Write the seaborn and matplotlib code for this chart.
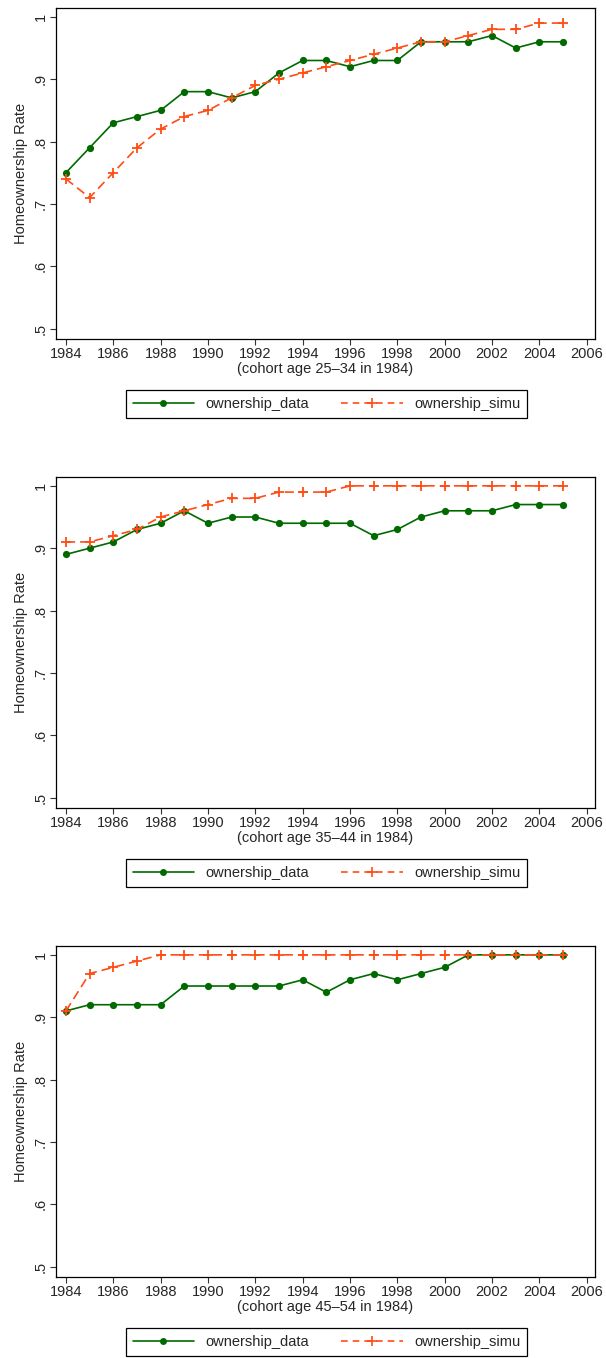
import numpy as np
import pandas as pd
import matplotlib
matplotlib.use("Agg")
import matplotlib.pyplot as plt
import seaborn as sns
from matplotlib.lines import Line2D

sns.set_style("ticks")
plt.rcParams["font.family"] = ["Liberation Sans", "DejaVu Sans"]

years = list(range(1984, 2006))

cohort_labels = [
    "(cohort age 25\u201334 in 1984)",
    "(cohort age 35\u201344 in 1984)",
    "(cohort age 45\u201354 in 1984)",
]

data_25_34 = [0.75, 0.79, 0.83, 0.84, 0.85, 0.88, 0.88, 0.87, 0.88, 0.91, 0.93,
              0.93, 0.92, 0.93, 0.93, 0.96, 0.96, 0.96, 0.97, 0.95, 0.96, 0.96]
simu_25_34 = [0.74, 0.71, 0.75, 0.79, 0.82, 0.84, 0.85, 0.87, 0.89, 0.90, 0.91,
              0.92, 0.93, 0.94, 0.95, 0.96, 0.96, 0.97, 0.98, 0.98, 0.99, 0.99]

data_35_44 = [0.89, 0.90, 0.91, 0.93, 0.94, 0.96, 0.94, 0.95, 0.95, 0.94, 0.94,
              0.94, 0.94, 0.92, 0.93, 0.95, 0.96, 0.96, 0.96, 0.97, 0.97, 0.97]
simu_35_44 = [0.91, 0.91, 0.92, 0.93, 0.95, 0.96, 0.97, 0.98, 0.98, 0.99, 0.99,
              0.99, 1.00, 1.00, 1.00, 1.00, 1.00, 1.00, 1.00, 1.00, 1.00, 1.00]

data_45_54 = [0.91, 0.92, 0.92, 0.92, 0.92, 0.95, 0.95, 0.95, 0.95, 0.95, 0.96,
              0.94, 0.96, 0.97, 0.96, 0.97, 0.98, 1.00, 1.00, 1.00, 1.00, 1.00]
simu_45_54 = [0.91, 0.97, 0.98, 0.99, 1.00, 1.00, 1.00, 1.00, 1.00, 1.00, 1.00,
              1.00, 1.00, 1.00, 1.00, 1.00, 1.00, 1.00, 1.00, 1.00, 1.00, 1.00]

panels = [
    (data_25_34, simu_25_34, cohort_labels[0]),
    (data_35_44, simu_35_44, cohort_labels[1]),
    (data_45_54, simu_45_54, cohort_labels[2]),
]

x_ticks = list(range(1984, 2007, 2))
y_ticks = [0.5, 0.6, 0.7, 0.8, 0.9, 1.0]
y_tick_labels = [".5", ".6", ".7", ".8", ".9", "1"]

GREEN = "#006a00"
ORANGE = "#ff4c14"
FS = 10.5

W, H = 606, 1358
fig = plt.figure(figsize=(W / 100, H / 100), dpi=100)

ax_left, ax_right = 56, 595
ax_h = 331
panel_tops = [7.5, 476.5, 945.5]
legend_tops = [389.5, 858.5, 1327.5]

for (obs, sim, xlabel), top, leg_top in zip(panels, panel_tops, legend_tops):
    ax = fig.add_axes([ax_left / W, 1 - (top + ax_h) / H,
                       (ax_right - ax_left) / W, ax_h / H])
    df = pd.DataFrame({"year": years, "ownership_data": obs, "ownership_simu": sim})

    sns.lineplot(data=df, x="year", y="ownership_data", ax=ax, color=GREEN,
                 linewidth=1.2, marker="o", markersize=5.2,
                 markeredgecolor=GREEN, markerfacecolor=GREEN, markeredgewidth=0,
                 label="ownership_data", legend=False)
    sns.lineplot(data=df, x="year", y="ownership_simu", ax=ax, color=ORANGE,
                 linewidth=1.2, linestyle=(0, (5.5, 3)), marker="+",
                 markersize=7.2, markeredgewidth=1.3, markeredgecolor=ORANGE,
                 label="ownership_simu", legend=False)

    ax.set_xlim(1983.58, 2006.35)
    ax.set_ylim(0.484, 1.015)
    ax.set_xticks(x_ticks)
    ax.set_xticklabels([str(t) for t in x_ticks], fontsize=FS)
    ax.set_yticks(y_ticks)
    ax.set_yticklabels(y_tick_labels, fontsize=FS, rotation=90, va="center")
    ax.tick_params(axis="both", direction="out", length=4, width=0.8,
                   color="#333333", pad=2)
    ax.set_xlabel(xlabel, fontsize=FS, labelpad=1)
    ax.set_ylabel("Homeownership Rate", fontsize=FS, labelpad=4)
    for sp in ax.spines.values():
        sp.set_visible(True)
        sp.set_linewidth(0.9)
        sp.set_color("black")

    handles = [
        Line2D([], [], color=GREEN, linewidth=1.2, marker="o", markersize=5,
               markeredgewidth=0),
        Line2D([], [], color=ORANGE, linewidth=1.2, linestyle=(0, (4, 3)),
               marker="+", markersize=7, markeredgewidth=1.2),
    ]
    leg_h = 29
    cx = (126.5 + 527) / 2
    leg = fig.legend(handles, ["ownership_data", "ownership_simu"], ncol=2,
                     loc="center",
                     bbox_to_anchor=(cx / W, 1 - (leg_top + leg_h / 2) / H),
                     fontsize=FS, frameon=True, fancybox=False, edgecolor="black",
                     handlelength=4.2, columnspacing=2.2, handletextpad=0.8,
                     borderpad=0.45, framealpha=1)
    leg.get_frame().set_linewidth(0.9)

fig.savefig("out.png", dpi=100)
